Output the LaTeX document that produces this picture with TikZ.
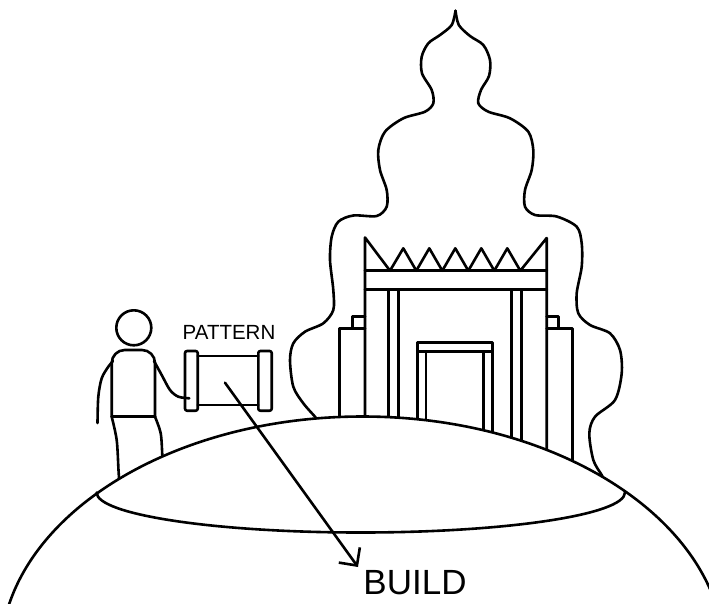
\documentclass[tikz,border=0pt]{standalone}
\usepackage{fontspec}
\setmainfont{Liberation Sans}
\usetikzlibrary{arrows.meta}

\begin{document}
\begin{tikzpicture}[x=1pt,y=-1pt,line width=2.6pt,line join=round,line cap=round,word/.style={inner sep=0pt}]
\useasboundingbox (0,0) rectangle (709,603);
% cloud over the house
\draw plot[smooth] coordinates {(318,421) (315,416.7) (303.3,403.3) (293.3,386.7) (290,360) (293.3,343.3) (305,331.7) (323.3,323.3) (333.3,310) (333.3,290) (330,260) (331.7,236.7) (338.3,221.7) (353.3,215.5) (376.7,216) (386.7,206.7) (386.7,190) (380,170) (378.3,150) (385,131.7) (403.3,118.3) (425,111.7) (433.3,103.3) (431.7,90) (422,73.3) (421.7,56.7) (428.3,43.3) (440,35) (451.7,25) (455.5,10.7)};
\draw plot[smooth] coordinates {(455.5,10.7) (458.8,25) (470,36) (483.3,45) (490,60) (489,76) (481,90) (478.3,103.3) (488.3,111.7) (510,118.3) (528.3,131.7) (533.3,150) (531.7,170) (525,190) (525,206.7) (535,215) (556.7,216.5) (576.7,226.7) (581.7,243.3) (581.7,266.7) (576.7,293.3) (578.3,313.3) (590,325) (610,333.3) (620,350) (621.7,373.3) (615,400) (595,416.7) (589.3,433.3) (593.3,460) (601.7,475) (605,482)};
% house
\draw (365,470) -- (365,237.5) -- (390,270.7) \foreach \k in {0,...,4} {-- ({403.3+26*\k},248.3) -- ({416.3+26*\k},270.7)} -- (546.7,238) -- (546.7,480);
\draw (365,270.7) -- (546.7,270.7) (365,289.3) -- (546.7,289.3);
\foreach \x in {388.3,398.3,511.7,521.7} \draw (\x,289.3) -- (\x,480);
\draw (365,316.7) -- (352.7,316.7) -- (352.7,328.3) (365,328.3) -- (339.3,328.3) -- (339.3,470);
\draw (546.7,316.7) -- (558.3,316.7) -- (558.3,328.3) (546.7,328.3) -- (572.7,328.3) -- (572.7,480);
\draw (417.3,480) -- (417.3,342.3) -- (492.3,342.3) -- (492.3,480) (417.3,351.7) -- (492.3,351.7);
\draw (426,351.7) -- (426,480) (483.3,351.7) -- (483.3,480);
% man
\draw (133.8,327.8) circle[radius=17.5];
\draw[rounded corners=13pt] (111.7,416.7) -- (111.7,350) -- (155,350) -- (155,416.7);
\draw (111.7,416.7) -- (155,416.7);
\draw plot[smooth] coordinates {(97.5,423) (98.3,396.7) (101.7,378.3) (108.3,366.7) (113,361)};
\draw plot[smooth] coordinates {(154,361) (161.7,375) (170,390) (178.3,396.7) (189.3,398.3)};
\draw plot[smooth] coordinates {(111.7,416.7) (116.7,440) (118.5,470) (119.5,486)};
\draw plot[smooth] coordinates {(155,416.7) (160.7,433.3) (162.3,455) (162.8,463)};
% scroll
\draw[rounded corners=2pt] (185,351) rectangle (197.7,410.7) (258.3,351) rectangle (271.7,410.7);
\draw (197.7,356) -- (258.3,356) (197.7,405) -- (258.3,405);
\node[word,font=\fontsize{20.5}{24}\selectfont] (pattern) at (229,332) {PATTERN};
% hill
\draw[fill=white] (362.5,656.5) ellipse [x radius=362,y radius=240];
\draw (96.6,492.5) arc[start angle=180,end angle=0,x radius=264.2,y radius=40];
\coordinate (scroll) at (225,382.7);
\coordinate (site) at (358,567);
\draw[-{Straight Barb[length=13pt,width=26pt]}] (scroll) -- (site);
\node[word,font=\fontsize{35}{38}\selectfont] (build) at (415,583) {BUILD};
\end{tikzpicture}
\end{document}
